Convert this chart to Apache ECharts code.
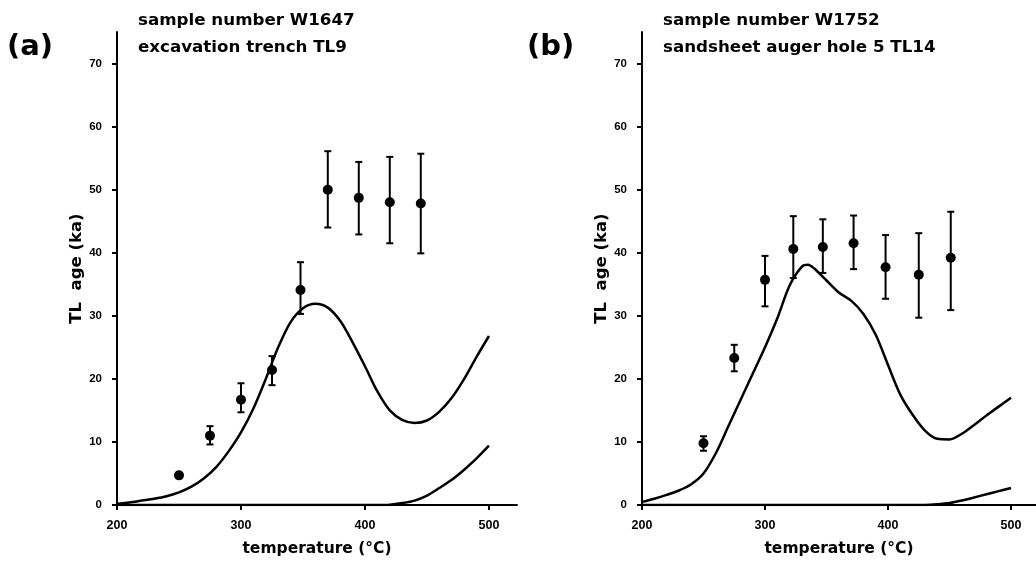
<!DOCTYPE html>
<html>
<head>
<meta charset="utf-8">
<script src="https://cdn.jsdelivr.net/npm/echarts@6/dist/echarts.min.js"></script>
<style>html,body{margin:0;padding:0;background:#fff}#c{width:1036px;height:562px}</style>
</head>
<body>
<div id="c"></div>
<script>
// ---- Data ----
const xTicks = [200, 300, 400, 500];
const yTicks = [0, 10, 20, 30, 40, 50, 60, 70];

// Panel (a) measured TL ages
const tempsA = [250, 275, 300, 325, 348, 370, 395, 420, 445];
const agesA  = [4.7, 11.0, 16.7, 21.4, 34.1, 50.0, 48.7, 48.0, 47.8];
const lowA   = [4.5, 9.6, 14.7, 19.0, 30.3, 44.0, 42.9, 41.5, 39.9];
const highA  = [4.9, 12.5, 19.3, 23.6, 38.5, 56.1, 54.4, 55.2, 55.7];

// Panel (a) curves
const curveTempsA = [200,210,220,230,240,250,260,270,280,290,300,310,320,330,340,350,360,370,380,390,400,410,420,430,440,450,460,470,480,490,500];
const curveA1 = [0.2,0.4,0.7,1.0,1.4,2.0,2.9,4.2,6.0,8.5,11.5,15.3,20.0,25.0,29.0,31.2,31.9,31.3,29.2,25.8,22.0,18.0,15.0,13.5,13.0,13.4,14.8,17.0,20.0,23.5,26.8];
const curveA2 = [0,0,0,0,0,0,0,0,0,0,0,0,0,0,0,0,0,0,0,0,0,0,0.05,0.3,0.7,1.5,2.7,4.0,5.6,7.4,9.4];

// Panel (b) measured TL ages
const tempsB = [250, 275, 300, 323, 347, 372, 398, 425, 451];
const agesB  = [9.8, 23.3, 35.7, 40.6, 40.9, 41.5, 37.7, 36.5, 39.2];
const lowB   = [8.6, 21.2, 31.5, 36.0, 36.8, 37.4, 32.7, 29.7, 30.9];
const highB  = [10.9, 25.4, 39.5, 45.8, 45.3, 45.9, 42.8, 43.1, 46.5];

// Panel (b) curves
const curveTempsB = [200,210,220,230,240,250,260,270,280,290,300,310,320,330,335,340,350,360,370,380,390,400,410,420,430,440,450,460,470,480,490,500];
const curveB1 = [0.5,1.0,1.6,2.3,3.3,5.0,8.2,12.4,16.6,20.8,25.0,29.6,34.8,37.8,38.1,37.5,35.6,33.7,32.4,30.3,27.0,22.2,17.5,14.3,11.8,10.5,10.4,11.3,12.7,14.2,15.6,17.0];
const curveB2 = [0,0,0,0,0,0,0,0,0,0,0,0,0,0,0,0,0,0,0,0,0,0,0,0,0,0.1,0.3,0.7,1.2,1.7,2.2,2.7];

// ---- Chart ----
const chart = echarts.init(document.getElementById('c'), null, {renderer: 'canvas'});
const tickFont = {fontFamily: 'Liberation Sans', fontWeight: 'bold', fontSize: 11.5, color: '#000'};
const titleFont = 'DejaVu Sans';

function zip(xs, ys) { return xs.map((x, i) => [x, ys[i]]); }

function xAxisCfg(gi, max) {
  return {
    type: 'value', gridIndex: gi, min: 200, max: max,
    axisLine: {show: true, onZero: false, lineStyle: {color: '#000', width: 2}},
    axisTick: {show: true, customValues: xTicks, length: 5, lineStyle: {color: '#000', width: 2}},
    axisLabel: {show: true, customValues: xTicks, margin: 14, ...tickFont, fontSize: 12.5},
    splitLine: {show: false},
    name: 'temperature (°C)', nameLocation: 'middle', nameGap: 36,
    nameTextStyle: {fontFamily: titleFont, fontWeight: 'bold', fontSize: 15.5, color: '#000'}
  };
}
function yAxisCfg(gi) {
  return {
    type: 'value', gridIndex: gi, min: 0, max: 75,
    axisLine: {show: true, onZero: false, lineStyle: {color: '#000', width: 2}},
    axisTick: {show: true, customValues: yTicks, length: 5, lineStyle: {color: '#000', width: 2}},
    axisLabel: {show: true, customValues: yTicks, margin: 15, ...tickFont},
    splitLine: {show: false},
    name: 'TL  age (ka)', nameLocation: 'middle', nameGap: 31, nameRotate: 90,
    nameTextStyle: {fontFamily: titleFont, fontWeight: 'bold', fontSize: 16.5, color: '#000'}
  };
}

function errorSeries(xi, temps, lows, highs) {
  return {
    type: 'custom', xAxisIndex: xi, yAxisIndex: xi,
    data: temps.map((t, i) => [t, lows[i], highs[i]]),
    renderItem: function (params, api) {
      const x = api.value(0);
      const lo = api.coord([x, api.value(1)]);
      const hi = api.coord([x, api.value(2)]);
      const cap = 3.5;
      const st = {stroke: '#000', lineWidth: 2};
      return {
        type: 'group',
        children: [
          {type: 'line', shape: {x1: lo[0], y1: lo[1], x2: hi[0], y2: hi[1]}, style: st},
          {type: 'line', shape: {x1: hi[0] - cap, y1: hi[1], x2: hi[0] + cap, y2: hi[1]}, style: st},
          {type: 'line', shape: {x1: lo[0] - cap, y1: lo[1], x2: lo[0] + cap, y2: lo[1]}, style: st}
        ]
      };
    },
    z: 3
  };
}
function pointSeries(xi, temps, ages) {
  return {type: 'scatter', xAxisIndex: xi, yAxisIndex: xi, data: zip(temps, ages),
    symbol: 'circle', symbolSize: 10, itemStyle: {color: '#000', opacity: 1}, z: 4, silent: true};
}
function curveSeries(xi, temps, vals) {
  return {type: 'line', xAxisIndex: xi, yAxisIndex: xi, data: zip(temps, vals),
    smooth: 0.3, showSymbol: false, lineStyle: {color: '#000', width: 2.5}, z: 2, silent: true};
}

function txt(x, y, text, size, align) {
  return {type: 'text', x: x, y: y, style: {text: text, fill: '#000',
    font: 'bold ' + size + 'px "' + titleFont + '"', textAlign: align || 'left', textVerticalAlign: 'middle'}};
}

chart.setOption({
  animation: false,
  backgroundColor: '#fff',
  grid: [
    {left: 117, top: 32, width: 400, height: 480},
    {left: 642, top: 32, width: 394, height: 480}
  ],
  xAxis: [xAxisCfg(0, 522.6), xAxisCfg(1, 520.3)],
  yAxis: [yAxisCfg(0), yAxisCfg(1)],
  graphic: [
    txt(7, 47, '(a)', 29),
    txt(138, 21, 'sample number W1647', 16.7),
    txt(138, 48, 'excavation trench TL9', 16.7),
    txt(527, 47, '(b)', 29),
    txt(663, 21, 'sample number W1752', 16.7),
    txt(663, 48, 'sandsheet auger hole 5 TL14', 16.7)
  ],
  series: [
    curveSeries(0, curveTempsA, curveA1),
    curveSeries(0, curveTempsA, curveA2),
    errorSeries(0, tempsA, lowA, highA),
    pointSeries(0, tempsA, agesA),
    curveSeries(1, curveTempsB, curveB1),
    curveSeries(1, curveTempsB, curveB2),
    errorSeries(1, tempsB, lowB, highB),
    pointSeries(1, tempsB, agesB)
  ]
});
</script>
</body>
</html>
